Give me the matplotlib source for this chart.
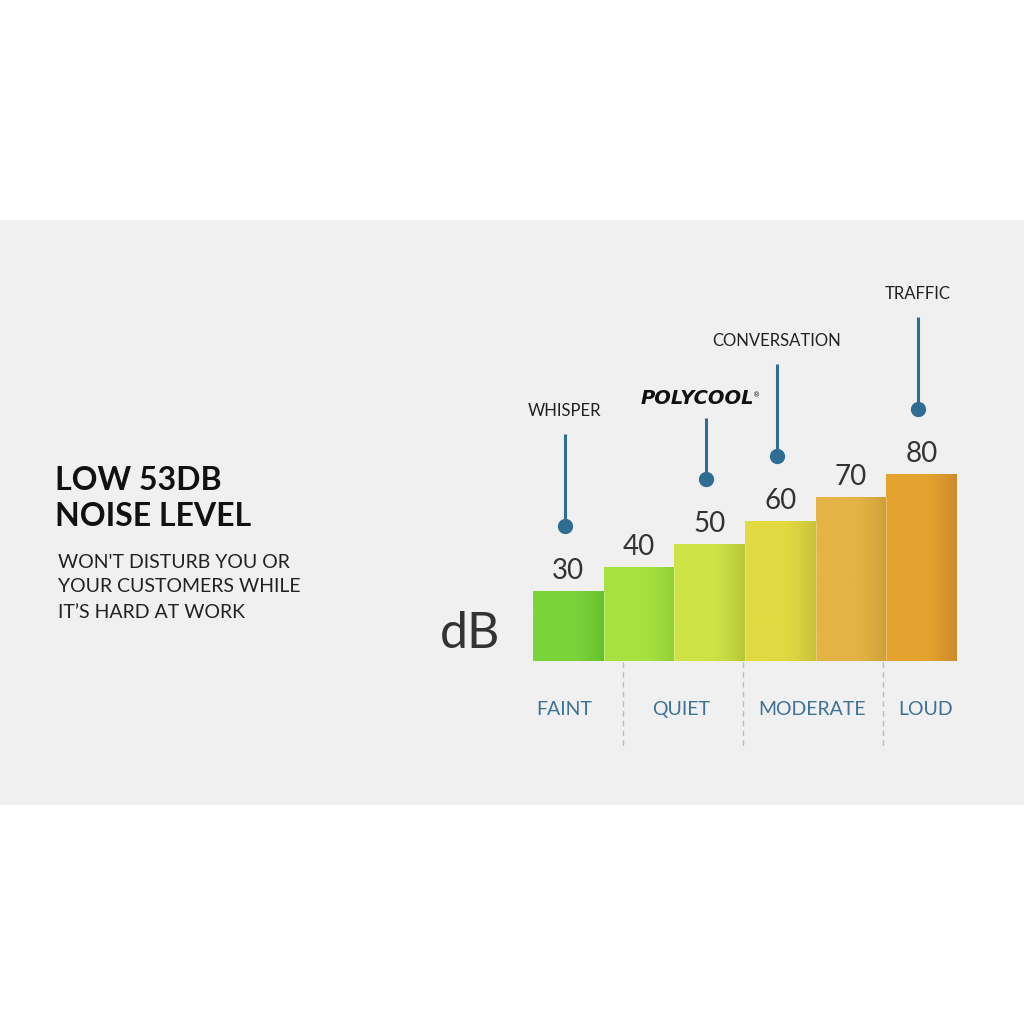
import numpy as np
import matplotlib
matplotlib.use("Agg")
import matplotlib.pyplot as plt
from matplotlib.patches import Rectangle
from matplotlib.colors import to_rgb

# ---- data ----
levels = [30, 40, 50, 60, 70, 80]
value_labels = ["30", "40", "50", "60", "70", "80"]
bar_colors_left = ["#7ad43a", "#a6e23f", "#cde346", "#e2da42", "#e4b445", "#e4a32f"]
bar_colors_right = ["#68bf2c", "#92cf36", "#b5c73a", "#c9c23a", "#cca03a", "#cc8a2a"]
callout_bars = [0, 2, 3, 5]
callout_texts = ["WHISPER", "POLYCOOL", "CONVERSATION", "TRAFFIC"]
categories = ["FAINT", "QUIET", "MODERATE", "LOUD"]
category_x = [-0.06, 1.59, 3.45, 5.06]
separator_x = [0.77, 2.47, 4.45]
heading = ["LOW 53DB", "NOISE LEVEL"]
subtext = ["WON'T DISTURB YOU OR", "YOUR CUSTOMERS WHILE", "IT\u2019S HARD AT WORK"]

W = H = 1024
fig = plt.figure(figsize=(10.24, 10.24), dpi=100)
fig.patch.set_facecolor("white")

# background axes in pixel coordinates
bg = fig.add_axes([0, 0, 1, 1])
bg.set_xlim(0, W)
bg.set_ylim(H, 0)
bg.axis("off")
bg.add_patch(Rectangle((0, 220), W, 585, facecolor="#f0f0f0", edgecolor="none"))

font = "Lato"
for i, t in enumerate(heading):
    bg.text(55, 481 + i * 36, t, fontsize=23, fontweight="bold", family=font,
            color="#111111", ha="left", va="center")
for i, t in enumerate(subtext):
    bg.text(58, 562 + i * 25, t, fontsize=14, family=font,
            color="#222222", ha="left", va="center")
bg.text(470, 634, "dB", fontsize=36, family=font, color="#333333",
        ha="center", va="center")

# bar axes
PX = 2.34  # pixels per dB
left_px, right_px, base_px, top_px = 533, 957, 661, 220
ax = fig.add_axes([left_px / W, (H - base_px) / H,
                   (right_px - left_px) / W, (base_px - top_px) / H])
ax.set_xlim(-0.5, 5.5)
ax.set_ylim(0, (base_px - top_px) / PX)
ax.axis("off")
ax.patch.set_alpha(0)

x = np.arange(len(levels))
bars = ax.bar(x, levels, width=1.0, color=bar_colors_left, linewidth=0, zorder=2)
t = np.linspace(0, 1, 200)
w = np.clip((t - 0.55) / 0.45, 0, 1) ** 1.3
for b, cl, cr in zip(bars, bar_colors_left, bar_colors_right):
    c1 = np.array(to_rgb(cl)); c2 = np.array(to_rgb(cr))
    grad = (c1[None, :] * (1 - w[:, None]) + c2[None, :] * w[:, None])[None, :, :]
    bx, by = b.get_x(), b.get_y()
    im = ax.imshow(grad, extent=[bx, bx + b.get_width(), by, by + b.get_height()],
                   aspect="auto", zorder=3, interpolation="bilinear")
    im.set_clip_path(b)
    ax.plot([bx + b.get_width(), bx + b.get_width()], [0, b.get_height()],
            color="white", lw=0.6, alpha=0.35, zorder=4)

for xi, v, lab in zip(x, levels, value_labels):
    ax.text(xi, v + 12 / PX, lab, fontsize=20, family=font, color="#333333",
            ha="center", va="baseline", zorder=5)

line_col = "#2f6e92"
for bi, txt in zip(callout_bars, callout_texts):
    v = levels[bi]
    xc = bi - 0.05
    dot = v + 65 / PX
    length = 61 if txt == "POLYCOOL" else 92
    top = dot + length / PX
    ax.plot([xc, xc], [dot, top], color=line_col, lw=2.2, zorder=5,
            solid_capstyle="butt")
    ax.plot([xc], [dot], "o", color=line_col, ms=10, zorder=6)
    if txt == "POLYCOOL":
        ax.text(xc - 0.12, top + 20 / PX, txt, fontsize=14, family="DejaVu Sans",
                fontweight="heavy", style="italic", color="#111111",
                ha="center", va="center", zorder=6)
        ax.text(xc + 0.72, top + 23 / PX, "\u00ae", fontsize=5, color="#111111",
                ha="center", va="center", zorder=6)
    else:
        ax.text(xc, top + 18 / PX, txt, fontsize=12, family=font,
                color="#222222", ha="center", va="baseline", zorder=6)

for sx in separator_x:
    ax.plot([sx, sx], [-1 / PX, -88 / PX], color="#bbbbbb", lw=1,
            ls=(0, (4, 3)), clip_on=False, zorder=1)
for cx, c in zip(category_x, categories):
    ax.text(cx, -54 / PX, c, fontsize=14, family=font, color="#3d7196",
            ha="center", va="baseline", clip_on=False)

fig.savefig("out.png", dpi=100, facecolor="white")
